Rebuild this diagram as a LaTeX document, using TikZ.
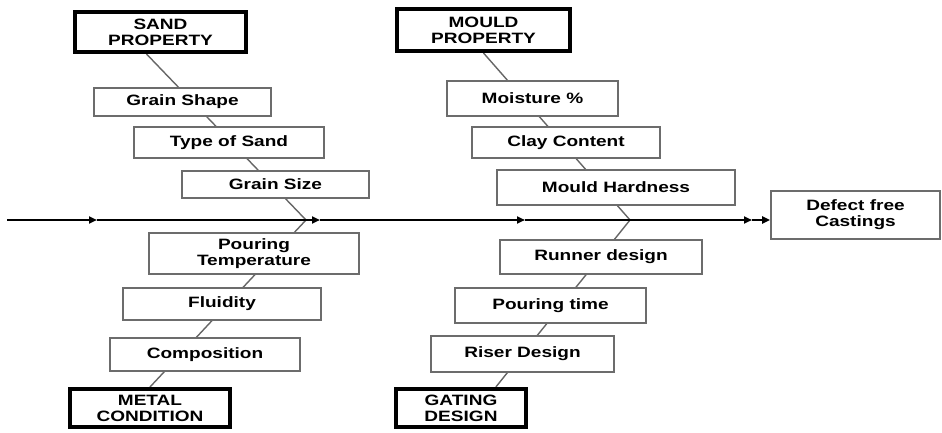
\documentclass[tikz,border=0pt]{standalone}
\usepackage{fontspec}
\newfontfamily\castfont[FakeStretch=1.27]{Liberation Sans}
\usetikzlibrary{arrows.meta,calc,backgrounds}

\tikzset{
  cause/.style={draw=gray!85!black, fill=white, line width=1.6pt, inner sep=0pt, align=center,
    font=\castfont\bfseries\fontsize{15}{16}\selectfont},
  head/.style={cause, draw=black, line width=4pt},
  bone/.style={draw=black!60, line width=1.4pt},
  spine/.style={line width=2.2pt, -{Triangle[length=8pt,width=7pt]}},
}

\begin{document}
\begin{tikzpicture}[x=1pt,y=-1pt]
  \useasboundingbox (0,0) rectangle (942,433);

  % heads
  \node[head, minimum width=171, minimum height=40] (sand) at (160.5,32) {SAND\\PROPERTY};
  \node[head, minimum width=173, minimum height=42] (mould) at (483.5,30) {MOULD\\PROPERTY};
  \node[head, minimum width=160, minimum height=38] (metal) at (150,408) {METAL\\CONDITION};
  \node[head, minimum width=130, minimum height=38] (gating) at (461,408) {GATING\\DESIGN};

  % sand property
  \node[cause, minimum width=177, minimum height=28] (gshape) at (182.5,102) {Grain Shape};
  \node[cause, minimum width=190, minimum height=31] (tsand) at (229,142.5) {Type of Sand};
  \node[cause, minimum width=187, minimum height=27] (gsize) at (275.5,184.5) {Grain Size};

  % mould property
  \node[cause, minimum width=171, minimum height=35] (moist) at (532.5,98.5) {Moisture \%};
  \node[cause, minimum width=188, minimum height=31] (clay) at (566,142.5) {Clay Content};
  \node[cause, minimum width=238, minimum height=35] (hard) at (616,187.5) {Mould Hardness};

  % metal condition
  \node[cause, minimum width=210, minimum height=41] (ptemp) at (254,253.5) {Pouring\\Temperature};
  \node[cause, minimum width=198, minimum height=32] (fluid) at (222,304) {Fluidity};
  \node[cause, minimum width=190, minimum height=33] (comp) at (205,354.5) {Composition};

  % gating design
  \node[cause, minimum width=202, minimum height=34] (runner) at (601,257) {Runner design};
  \node[cause, minimum width=191, minimum height=35] (ptime) at (550.5,305.5) {Pouring time};
  \node[cause, minimum width=183, minimum height=36] (riser) at (522.5,354) {Riser Design};

  % effect
  \node[cause, minimum width=169, minimum height=48] (defect) at (855.5,215) {Defect free\\Castings};

  % spine
  \coordinate (s0) at (7,220);
  \coordinate (s1) at (97,220);
  \coordinate (s2) at (320,220);
  \coordinate (s3) at (525,220);
  \coordinate (s4) at (752,220);
  \coordinate (s5) at (defect.west |- s0);
  \foreach \a/\b in {s0/s1, s1/s2, s2/s3, s3/s4, s4/s5}
    \draw[spine] (\a) -- (\b);

  % bones
  \coordinate (jleft) at (306,220);
  \coordinate (jright) at (630,220);
  \begin{scope}[on background layer]
    \draw[bone] ($(sand.south west)!0.42!(sand.south east)$) -- (jleft) -- (metal.north);
    \draw[bone] (mould.south) -- (jright) -- ($(gating.north west)!0.76!(gating.north east)$);
  \end{scope}
\end{tikzpicture}
\end{document}
